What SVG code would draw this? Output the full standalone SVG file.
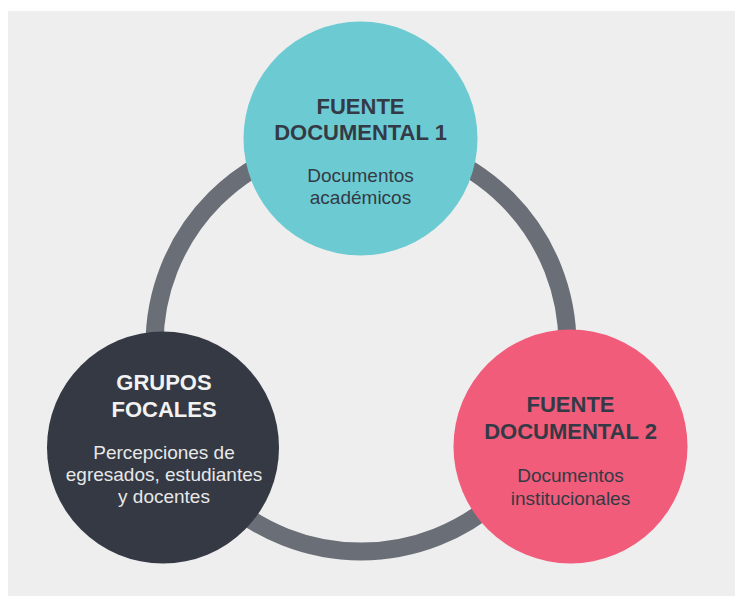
<svg xmlns="http://www.w3.org/2000/svg" width="735" height="596" viewBox="0 0 735 596">
<style>
.title{font-family:"Liberation Sans",Arial,sans-serif;font-weight:bold;font-size:22px;text-anchor:middle}
.sub{font-family:"Liberation Sans",Arial,sans-serif;font-size:19px;text-anchor:middle}
.dk{fill:#343a45}
.lt{fill:#f2f2f2}
.lt2{fill:#e8e8e8}
</style>
<rect x="0" y="0" width="735" height="596" fill="#ffffff"/>
<rect x="8" y="11" width="727" height="585" fill="#eeeeee"/>
<g id="connectors">
<circle cx="361" cy="345" r="206.5" fill="none" stroke="#6a6e77" stroke-width="18"/>
</g>
<g id="fuente1">
<circle cx="360.5" cy="138.5" r="117" fill="#6ccbd2"/>
<text class="title dk" x="360.5" y="114">FUENTE</text>
<text class="title dk" x="360.5" y="140">DOCUMENTAL 1</text>
<text class="sub dk" x="360.5" y="182">Documentos</text>
<text class="sub dk" x="360.5" y="204">académicos</text>
</g>
<g id="fuente2">
<circle cx="570.5" cy="446.5" r="117" fill="#f15c7a"/>
<text class="title dk" x="570.5" y="412">FUENTE</text>
<text class="title dk" x="570.5" y="439">DOCUMENTAL 2</text>
<text class="sub dk" x="570.5" y="482">Documentos</text>
<text class="sub dk" x="570.5" y="505">institucionales</text>
</g>
<g id="grupos">
<circle cx="163" cy="447.5" r="116" fill="#343944"/>
<text class="title lt" x="164" y="390">GRUPOS</text>
<text class="title lt" x="164" y="417">FOCALES</text>
<text class="sub lt2" x="164" y="459">Percepciones de</text>
<text class="sub lt2" x="164" y="481">egresados, estudiantes</text>
<text class="sub lt2" x="164" y="503">y docentes</text>
</g>
</svg>
